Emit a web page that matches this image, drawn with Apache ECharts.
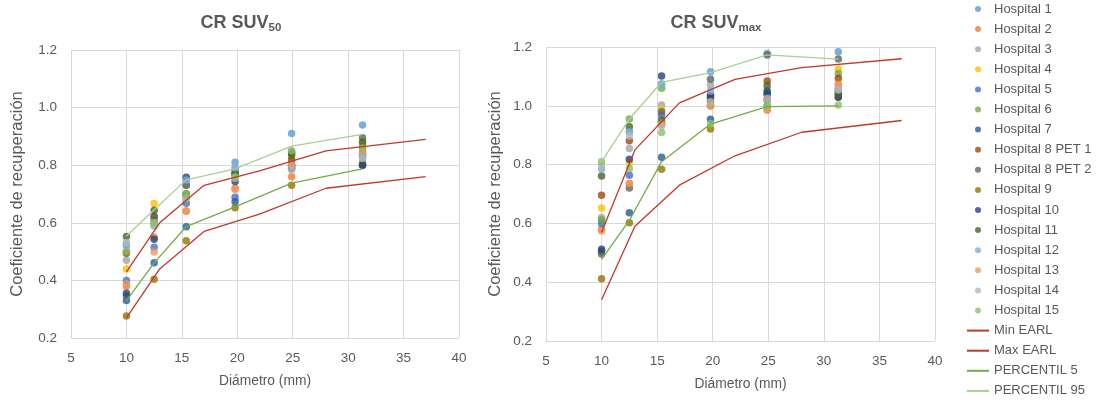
<!DOCTYPE html>
<html>
<head>
<meta charset="utf-8">
<script src="https://cdn.jsdelivr.net/npm/echarts@6/dist/echarts.min.js"></script>
<style>
  html, body { margin: 0; padding: 0; background: #fff; }
  #chart { width: 1098px; height: 401px; }
</style>
</head>
<body>
<div id="chart"></div>
<script>
// Sphere diameters (mm) measured by each site
const diameters = [10, 12.5, 15.4, 19.8, 24.9, 31.3];
// EARL reference sphere diameters (mm)
const earlDiameters = [10, 13, 17, 22, 28, 37];

const hospitalNames = [
  'Hospital 1', 'Hospital 2', 'Hospital 3', 'Hospital 4', 'Hospital 5',
  'Hospital 6', 'Hospital 7', 'Hospital 8 PET 1', 'Hospital 8 PET 2',
  'Hospital 9', 'Hospital 10', 'Hospital 11', 'Hospital 12', 'Hospital 13',
  'Hospital 14', 'Hospital 15'
];
const hospitalColors = [
  '#5B9BD5', '#ED7D31', '#A5A5A5', '#FFC000', '#4472C4', '#70AD47',
  '#255E91', '#9E480E', '#636363', '#997300', '#264478', '#43682B',
  '#7CAFDD', '#F1975A', '#B7B7B7', '#8CC168'
];

// Recovery coefficients, SUV50
const suv50 = [
  [0.52, 0.59, 0.75, 0.81, 0.91, 0.94],
  [0.38, 0.55, 0.64, 0.72, 0.76, 0.84],
  [0.47, 0.61, 0.73, 0.79, 0.79, 0.815],
  [0.44, 0.667, 0.685, 0.77, 0.83, 0.882],
  [0.40, 0.515, 0.668, 0.689, 0.80, 0.83],
  [0.50, 0.60, 0.69, 0.76, 0.833, 0.853],
  [0.33, 0.461, 0.586, 0.673, 0.80, 0.80],
  [0.494, 0.619, 0.70, 0.77, 0.818, 0.864],
  [0.346, 0.624, 0.73, 0.778, 0.847, 0.895],
  [0.276, 0.404, 0.538, 0.652, 0.73, 0.805],
  [0.355, 0.543, 0.758, 0.743, 0.789, 0.80],
  [0.552, 0.644, 0.70, 0.77, 0.84, 0.88],
  [0.53, 0.60, 0.749, 0.79, 0.80, 0.83],
  [0.388, 0.499, 0.642, 0.716, 0.80, 0.85],
  [0.531, 0.59, 0.685, 0.755, 0.783, 0.824],
  [0.50, 0.60, 0.70, 0.76, 0.85, 0.86]
];
// Recovery coefficients, SUVmax
const suvMax = [
  [0.61, 0.912, 1.074, 1.116, 1.178, 1.184],
  [0.58, 0.736, 0.94, 1.0, 0.986, 1.073],
  [0.62, 0.855, 1.003, 1.071, 1.025, 1.054],
  [0.652, 0.806, 0.988, 1.025, 1.05, 1.124],
  [0.60, 0.764, 0.969, 1.034, 1.039, 1.05],
  [0.612, 0.955, 1.06, 1.0, 1.0, 1.11],
  [0.504, 0.636, 0.825, 0.954, 1.04, 1.04],
  [0.696, 0.881, 0.938, 1.025, 1.084, 1.094],
  [0.496, 0.72, 0.98, 1.09, 1.173, 1.159],
  [0.412, 0.602, 0.784, 0.921, 1.02, 1.03],
  [0.512, 0.818, 1.101, 1.034, 1.05, 1.029],
  [0.761, 0.929, 0.952, 1.014, 1.068, 1.04],
  [0.784, 0.912, 1.074, 1.05, 1.0, 1.06],
  [0.574, 0.736, 0.938, 1.0, 0.986, 1.073],
  [0.795, 0.897, 0.931, 1.014, 1.025, 1.054],
  [0.81, 0.787, 0.909, 0.94, 1.0, 1.003]
];

// EARL acceptance limits
const earlMin50 = [0.27, 0.44, 0.57, 0.63, 0.72, 0.76];
const earlMax50 = [0.43, 0.60, 0.73, 0.78, 0.85, 0.89];
const earlMinMax = [0.34, 0.59, 0.73, 0.83, 0.91, 0.95];
const earlMaxMax = [0.57, 0.85, 1.01, 1.09, 1.13, 1.16];

// Percentiles across sites
const p5_50 = [0.33, 0.461, 0.587, 0.655, 0.738, 0.787];
const p95_50 = [0.554, 0.645, 0.749, 0.787, 0.866, 0.907];
const p5_max = [0.478, 0.61, 0.81, 0.938, 0.997, 1.0];
const p95_max = [0.81, 0.955, 1.08, 1.113, 1.173, 1.159];

const xTicks = [5, 10, 15, 20, 25, 30, 35, 40];
const yTicks = [0.2, 0.4, 0.6, 0.8, 1.0, 1.2];

const FONT = 'Liberation Sans, Arial, sans-serif';
const TXT = '#595959';
const GRIDC = '#d9d9d9';

const pair = (xs, ys) => xs.map((x, i) => [x, ys[i]]);

function xAxis(gridIndex) {
  return {
    type: 'value', gridIndex,
    min: xTicks[0], max: xTicks[xTicks.length - 1], interval: 5,
    name: 'Diámetro (mm)', nameLocation: 'middle', nameGap: 36,
    nameTextStyle: { color: TXT, fontSize: 13.8, fontFamily: FONT },
    axisLine: { show: false }, axisTick: { show: false },
    axisLabel: { color: TXT, fontSize: 13.5, fontFamily: FONT, margin: 13 },
    splitLine: { show: true, lineStyle: { color: GRIDC, width: 1 } }
  };
}
function yAxis(gridIndex, gap) {
  return {
    type: 'value', gridIndex,
    min: yTicks[0], max: yTicks[yTicks.length - 1], interval: 0.2,
    name: 'Coeficiente de recuperación', nameLocation: 'middle', nameGap: gap,
    nameTextStyle: { color: TXT, fontSize: 16.5, fontFamily: FONT },
    axisLine: { show: false }, axisTick: { show: false },
    axisLabel: { color: TXT, fontSize: 13.5, fontFamily: FONT, margin: 14,
      formatter: v => v.toFixed(1) },
    splitLine: { show: true, lineStyle: { color: GRIDC, width: 1 } }
  };
}

const series = [];
[suv50, suvMax].forEach((set, g) => {
  set.forEach((vals, i) => {
    series.push({
      name: hospitalNames[i], type: 'scatter',
      xAxisIndex: g, yAxisIndex: g,
      symbolSize: 7.5,
      itemStyle: { color: hospitalColors[i] },
      data: pair(diameters, vals)
    });
  });
});

const lineDefs = [
  { name: 'Min EARL', color: '#C0392B', d: [earlMin50, earlMinMax], xs: earlDiameters },
  { name: 'Max EARL', color: '#C0392B', d: [earlMax50, earlMaxMax], xs: earlDiameters },
  { name: 'PERCENTIL 5', color: '#70AD47', d: [p5_50, p5_max], xs: diameters },
  { name: 'PERCENTIL 95', color: '#A9D18E', d: [p95_50, p95_max], xs: diameters }
];
lineDefs.forEach(def => {
  [0, 1].forEach(g => {
    series.push({
      name: def.name, type: 'line',
      xAxisIndex: g, yAxisIndex: g,
      symbol: 'none',
      lineStyle: { color: def.color, width: 1.3 },
      itemStyle: { color: def.color },
      data: pair(def.xs, def.d[g])
    });
  });
});

const titleRich = {
  b: { fontSize: 18, fontWeight: 'bold', color: TXT, fontFamily: FONT },
  s: { fontSize: 11.5, fontWeight: 'bold', color: TXT, fontFamily: FONT, padding: [10, 0, 0, 0] }
};

const chart = echarts.init(document.getElementById('chart'));
chart.setOption({
  animation: false,
  backgroundColor: '#fff',
  title: [
    { text: '{b|CR SUV}{s|50}', left: 236, top: 7, textAlign: 'center',
      textStyle: { rich: titleRich } },
    { text: '{b|CR SUV}{s|max}', left: 711, top: 7, textAlign: 'center',
      textStyle: { rich: titleRich } }
  ],
  grid: [
    { left: 71, top: 50, width: 388, height: 288 },
    { left: 546, top: 47, width: 389, height: 294 }
  ],
  xAxis: [xAxis(0), xAxis(1)],
  yAxis: [yAxis(0, 45), yAxis(1, 42)],
  legend: {
    orient: 'vertical', left: 966, top: 2, padding: 0,
    itemWidth: 22, itemHeight: 6, itemGap: 6.1,
    textStyle: { color: TXT, fontSize: 13, fontFamily: FONT, lineHeight: 14 },
    data: hospitalNames.map(n => ({ name: n, icon: 'circle' }))
      .concat(lineDefs.map(d => ({
        name: d.name,
        itemStyle: { color: 'rgba(0,0,0,0)', borderWidth: 0 }
      })))
  },
  series
});
</script>
</body>
</html>
